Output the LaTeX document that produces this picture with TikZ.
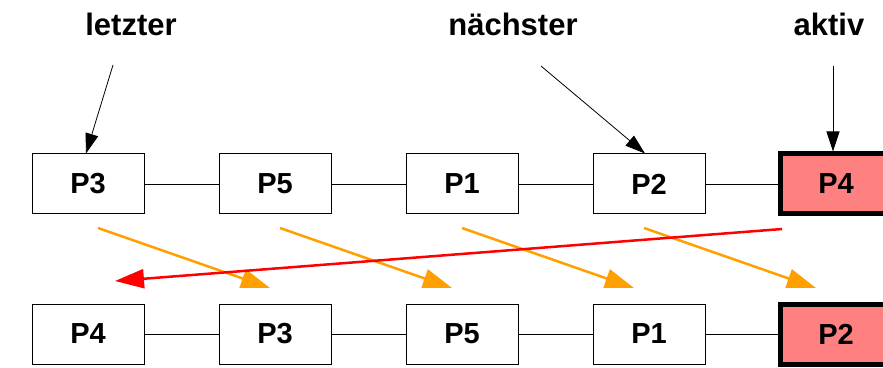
\documentclass[tikz,border=0pt]{standalone}
\usepackage{fontspec}
\setmainfont{Liberation Sans}
\usetikzlibrary{arrows.meta,calc}

\definecolor{ringorange}{RGB}{255,160,0}
\definecolor{aktivrot}{RGB}{255,128,128}

\tikzset{
  proc/.style={draw, line width=1pt, minimum width=112pt, minimum height=60pt,
    inner sep=0pt, font=\bfseries\fontsize{29}{29}\selectfont},
  aktivproc/.style={proc, line width=5pt, fill=aktivrot},
  zeiger/.style={-{Triangle[length=20pt,width=13pt]}, line width=0.8pt},
  umhaengen/.style={-{Triangle[length=29pt,width=19pt]}, line width=2.5pt, draw=ringorange},
  marke/.style={font=\bfseries\fontsize{31}{31}\selectfont},
}

\begin{document}
\begin{tikzpicture}[x=1pt, y=1pt]
  \useasboundingbox (0,0) rectangle (883,367);

  % ring before the switch (top) and after it (bottom)
  \foreach \i/\lab in {1/P3, 2/P5, 3/P1, 4/P2}
    \node[proc] (t\i) at ({88+187*(\i-1)},183) {\lab};
  \node[aktivproc] (t5) at (836,183) {P4};
  \foreach \i/\lab in {1/P4, 2/P3, 3/P5, 4/P1}
    \node[proc] (b\i) at ({88+187*(\i-1)},33) {\lab};
  \node[aktivproc] (b5) at (836,33) {P2};

  \foreach \i [evaluate=\i as \j using int(\i+1)] in {1,...,4} {
    \draw[line width=0.8pt] (t\i.east) -- (t\j.west);
    \draw[line width=0.8pt] (b\i.east) -- (b\j.west);
  }

  % pointers into the ring
  \node[marke] (letzter) at (131,343) {letzter};
  \node[marke] (naechster) at (513,343) {nächster};
  \node[marke] (aktiv) at (829,343) {aktiv};
  \coordinate (pl) at (113,302);
  \coordinate (pn) at (541,301);
  \coordinate (pa) at (833,301);
  \draw[zeiger] (pl) -- ([xshift=-2pt]t1.north);
  \draw[zeiger] (pn) -- ([xshift=-4pt]t4.north);
  \draw[zeiger] (pa) -- ([xshift=-3pt]t5.north);

  % each process moves one place on
  \foreach \i in {1,...,4} {
    \coordinate (von\i) at ({98+182*(\i-1)},139);
    \coordinate (nach\i) at ({270+182*(\i-1)},79);
    \draw[umhaengen] (von\i) -- (nach\i);
  }
  % the active one goes to the front
  \coordinate (rvon) at (782,138);
  \coordinate (rnach) at (115,86);
  \draw[-{Triangle[length=29pt,width=19pt]}, line width=2.5pt, red] (rvon) -- (rnach);
\end{tikzpicture}
\end{document}
